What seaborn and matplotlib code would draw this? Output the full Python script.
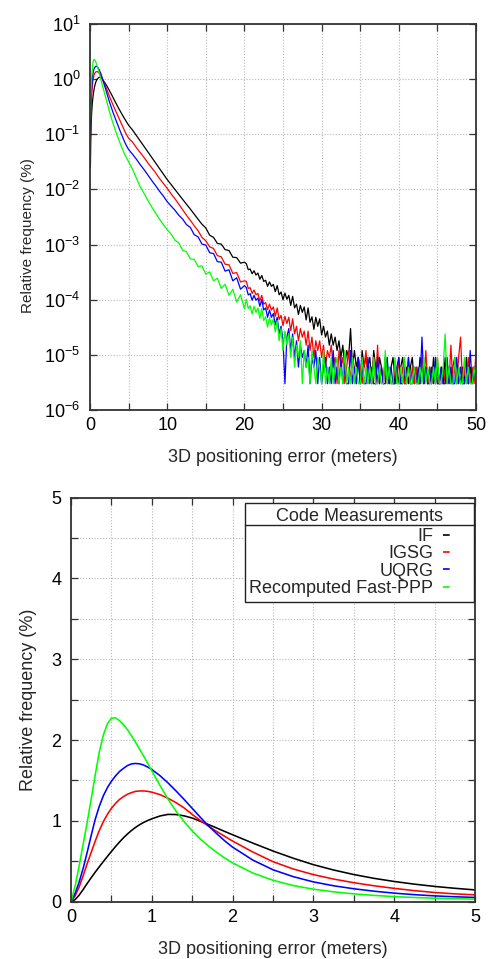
import numpy as np
import pandas as pd
import matplotlib
matplotlib.use("Agg")
import matplotlib.pyplot as plt
from matplotlib.lines import Line2D
from matplotlib.transforms import IdentityTransform
from matplotlib.ticker import MultipleLocator, FixedLocator, NullLocator, FuncFormatter
import seaborn as sns

sns.set_style("ticks")
plt.rcParams['font.family'] = ['Liberation Sans', 'DejaVu Sans']
plt.rcParams['mathtext.fontset'] = 'custom'
plt.rcParams['mathtext.rm'] = 'Liberation Sans'
plt.rcParams['mathtext.it'] = 'Liberation Sans:italic'
plt.rcParams['mathtext.bf'] = 'Liberation Sans:bold'
plt.rcParams['axes.unicode_minus'] = False

# ---------------- data ----------------
series_names = ["IF", "IGSG", "UQRG", "Recomputed Fast-PPP"]
series_colors = ["#000000", "#ff0000", "#0000ff", "#00ff00"]
legend_title = "Code Measurements"
x_label = "3D positioning error (meters)"
y_label = "Relative frequency (%)"

# 3D error (m), 0..5 m
x_main = [0, 0.05, 0.1, 0.15, 0.2, 0.25, 0.3, 0.35, 0.4, 0.45, 0.5, 0.55, 0.6,
          0.65, 0.7, 0.75, 0.8, 0.85, 0.9, 0.95, 1.0, 1.1, 1.2, 1.3, 1.4, 1.5,
          1.6, 1.7, 1.8, 1.9, 2.0, 2.25, 2.5, 2.75, 3.0, 3.25, 3.5, 3.75, 4.0,
          4.25, 4.5, 4.75, 5.0]

if_main = [0, 0.025, 0.08, 0.15, 0.225, 0.297, 0.366, 0.432, 0.496, 0.559, 0.621,
           0.681, 0.738, 0.791, 0.839, 0.882, 0.92, 0.953, 0.981, 1.005, 1.025,
           1.06, 1.08, 1.078, 1.062, 1.035, 0.995, 0.955, 0.913, 0.87, 0.828,
           0.725, 0.627, 0.538, 0.458, 0.392, 0.336, 0.289, 0.25, 0.217, 0.189,
           0.166, 0.146]
igsg_main = [0, 0.07, 0.18, 0.32, 0.47, 0.61, 0.75, 0.88, 0.99, 1.08, 1.155,
             1.215, 1.265, 1.30, 1.33, 1.35, 1.365, 1.37, 1.37, 1.365, 1.355,
             1.325, 1.28, 1.225, 1.16, 1.08, 1.005, 0.935, 0.87, 0.81, 0.75,
             0.615, 0.495, 0.405, 0.335, 0.28, 0.235, 0.197, 0.165, 0.137,
             0.114, 0.097, 0.085]
uqrg_main = [0, 0.10, 0.24, 0.41, 0.61, 0.82, 1.02, 1.18, 1.31, 1.41, 1.49,
             1.555, 1.61, 1.65, 1.685, 1.705, 1.71, 1.705, 1.69, 1.665, 1.635,
             1.56, 1.47, 1.37, 1.265, 1.155, 1.045, 0.94, 0.845, 0.755, 0.675,
             0.515, 0.395, 0.31, 0.245, 0.197, 0.16, 0.13, 0.106, 0.087, 0.072,
             0.061, 0.053]
fppp_main = [0, 0.19, 0.44, 0.71, 0.98, 1.27, 1.57, 1.85, 2.06, 2.20, 2.27,
             2.275, 2.24, 2.19, 2.125, 2.05, 1.97, 1.885, 1.80, 1.71, 1.62,
             1.44, 1.27, 1.12, 0.99, 0.875, 0.775, 0.69, 0.612, 0.542, 0.48,
             0.355, 0.265, 0.20, 0.155, 0.122, 0.097, 0.078, 0.063, 0.052,
             0.043, 0.037, 0.032]

# tail of the histogram, log panel only: 5.5..20 m (0.5 m bins), 20.25..50 m (0.25 m bins)
x_tail_a = np.arange(5.5, 20.01, 0.5)
x_tail_b = np.arange(20.25, 50.01, 0.25)

if_tail_a = [0.120, 0.0955, 0.0759, 0.0603, 0.0479, 0.038, 0.0302, 0.024, 0.0191, 0.0151,
             0.0123, 0.0100, 0.0081, 0.0066, 0.0054, 0.0044, 0.00355, 0.00288, 0.00234, 0.0020,
             0.00148, 0.00135, 0.00105, 0.00102, 0.00081, 0.00078, 0.00059, 0.00058, 0.00046, 0.00048]
if_tail_b = [4.5e-4, 3.5e-4, 3.6e-4, 2.95e-4, 3.35e-4, 2.8e-4, 3.05e-4, 2.35e-4,
             2.75e-4, 2.15e-4, 2.25e-4, 1.75e-4, 2.1e-4, 1.75e-4, 1.9e-4, 1.4e-4,
             1.8e-4, 1.23e-4, 1.38e-4, 1.0e-4, 1.32e-4, 1.02e-4, 1.2e-4, 7.9e-5,
             1.15e-4, 7.1e-5, 8.3e-5, 5.4e-5, 7.9e-5, 5.9e-5, 7.4e-5, 4.3e-5,
             7.1e-5, 3.9e-5, 4.9e-5, 2.9e-5, 4.8e-5, 3.3e-5, 4.5e-5, 2.3e-5,
             3.3e-5, 2.1e-5, 2.7e-5, 1.5e-5, 2.4e-5, 1.5e-5, 2.1e-5, 1.2e-5,
             1.8e-5, 9e-6, 1.5e-5, 6e-6, 1.2e-5, 9e-6, 3.0e-5, 6e-6,
             1.2e-5, 6e-6, 9e-6, 3e-6, 1.2e-5, 6e-6, 9e-6, 6e-6,
             9e-6, 3e-6, 1.2e-5, 6e-6, 3e-6, 9e-6, 6e-6, 3e-6,
             9e-6, 6e-6, 3e-6, 6e-6, 9e-6, 3e-6, 6e-6, 3e-6,
             6e-6, 9e-6, 3e-6, 6e-6, 3e-6, 6e-6, 9e-6, 3e-6,
             6e-6, 3e-6, 9e-6, 6e-6, 3e-6, 6e-6, 3e-6, 6e-6,
             3e-6, 9e-6, 3e-6, 6e-6, 3e-6, 6e-6, 3e-6, 9e-6,
             3e-6, 6e-6, 3e-6, 6e-6, 9e-6, 3e-6, 6e-6, 3e-6,
             6e-6, 3e-6, 9e-6, 3e-6, 6e-6, 3e-6, 6e-6, 3e-6]

igsg_tail_a = [0.0724, 0.0575, 0.0468, 0.038, 0.0302, 0.0245, 0.020, 0.0158, 0.0129, 0.0105,
               0.0083, 0.0068, 0.0054, 0.0043, 0.0034, 0.00275, 0.00219, 0.00178, 0.00135, 0.00117,
               9.1e-4, 8.5e-4, 6.3e-4, 6.0e-4, 4.4e-4, 4.3e-4, 3.0e-4, 3.1e-4, 2.1e-4, 2.2e-4]
igsg_tail_b = [2.15e-4, 1.6e-4, 1.65e-4, 1.3e-4, 1.5e-4, 1.23e-4, 1.3e-4, 9.5e-5,
               1.2e-4, 8.3e-5, 8.9e-5, 6.6e-5, 8.3e-5, 6.5e-5, 7.4e-5, 5.0e-5,
               7.1e-5, 4.4e-5, 5.2e-5, 3.4e-5, 5.0e-5, 3.7e-5, 4.8e-5, 2.75e-5,
               4.5e-5, 2.4e-5, 3.3e-5, 1.8e-5, 3.0e-5, 2.1e-5, 2.7e-5, 1.5e-5,
               2.7e-5, 1.2e-5, 2.1e-5, 9e-6, 1.8e-5, 1.2e-5, 1.8e-5, 9e-6,
               1.5e-5, 6e-6, 1.2e-5, 9e-6, 1.5e-5, 6e-6, 9e-6, 3e-6,
               1.2e-5, 6e-6, 9e-6, 3e-6, 6e-6, 1.2e-5, 3e-6, 9e-6,
               6e-6, 3e-6, 9e-6, 6e-6, 3e-6, 6e-6, 1.2e-5, 3e-6,
               6e-6, 3e-6, 9e-6, 3e-6, 1.5e-5, 3e-6, 6e-6, 3e-6,
               9e-6, 3e-6, 6e-6, 3e-6, 3e-6, 6e-6, 3e-6, 9e-6,
               3e-6, 6e-6, 3e-6, 3e-6, 9e-6, 3e-6, 6e-6, 3e-6,
               6e-6, 3e-6, 3e-6, 9e-6, 3e-6, 1.2e-5, 3e-6, 6e-6,
               3e-6, 6e-6, 3e-6, 9e-6, 3e-6, 3e-6, 6e-6, 3e-6,
               6e-6, 3e-6, 1.5e-5, 3e-6, 6e-6, 3e-6, 9e-6, 2.1e-5,
               3e-6, 6e-6, 3e-6, 9e-6, 3e-6, 6e-6, 3e-6, 1.2e-5]

uqrg_tail_a = [0.0437, 0.0355, 0.0282, 0.0229, 0.0182, 0.0145, 0.0117, 0.0093, 0.0076, 0.0060,
               0.0050, 0.0042, 0.0034, 0.0029, 0.0023, 0.00204, 0.00151, 0.00138, 0.00102, 0.00098,
               7.1e-4, 6.9e-4, 4.9e-4, 4.8e-4, 3.3e-4, 3.5e-4, 2.2e-4, 2.5e-4, 1.55e-4, 1.8e-4]
uqrg_tail_b = [1.66e-4, 1.22e-4, 1.29e-4, 9.8e-5, 1.2e-4, 9.8e-5, 1.07e-4, 7.6e-5,
               1.0e-4, 6.5e-5, 7.1e-5, 4.8e-5, 6.5e-5, 4.8e-5, 5.6e-5, 3.5e-5,
               4.8e-5, 2.4e-5, 3.3e-5, 1.8e-5, 3e-6, 2.1e-5, 3.0e-5, 1.2e-5,
               2.4e-5, 9e-6, 1.8e-5, 6e-6, 1.5e-5, 9e-6, 1.2e-5, 6e-6,
               1.5e-5, 3e-6, 9e-6, 6e-6, 1.2e-5, 3e-6, 9e-6, 3e-6,
               6e-6, 9e-6, 3e-6, 6e-6, 3e-6, 1.2e-5, 3e-6, 6e-6,
               3e-6, 9e-6, 3e-6, 6e-6, 3e-6, 3e-6, 1.2e-5, 3e-6,
               6e-6, 3e-6, 9e-6, 3e-6, 6e-6, 3e-6, 3e-6, 9e-6,
               3e-6, 6e-6, 3e-6, 3e-6, 9e-6, 3e-6, 6e-6, 3e-6,
               3e-6, 9e-6, 3e-6, 6e-6, 3e-6, 3e-6, 6e-6, 9e-6,
               3e-6, 3e-6, 6e-6, 3e-6, 9e-6, 3e-6, 3e-6, 6e-6,
               3e-6, 6e-6, 3e-6, 2.1e-5, 3e-6, 6e-6, 3e-6, 3e-6,
               6e-6, 3e-6, 9e-6, 3e-6, 3e-6, 6e-6, 3e-6, 3e-6,
               9e-6, 3e-6, 6e-6, 3e-6, 3e-6, 9e-6, 3e-6, 6e-6,
               3e-6, 3e-6, 6e-6, 3e-6, 1.2e-5, 3e-6, 6e-6, 3e-6]

fppp_tail_a = [0.0234, 0.0162, 0.0112, 0.0085, 0.0063, 0.0048, 0.0037, 0.0029, 0.0023, 0.00186,
               0.00155, 0.0012, 0.00107, 7.9e-4, 7.4e-4, 5.5e-4, 5.4e-4, 4.0e-4, 4.1e-4, 2.9e-4,
               3.2e-4, 2.2e-4, 2.45e-4, 1.6e-4, 1.9e-4, 1.2e-4, 1.55e-4, 9.1e-5, 1.23e-4, 6.9e-5]
fppp_tail_b = [1.02e-4, 6.9e-5, 7.8e-5, 5.5e-5, 7.6e-5, 5.9e-5, 7.1e-5, 4.6e-5,
               6.9e-5, 4.2e-5, 4.9e-5, 3.2e-5, 4.7e-5, 3.5e-5, 4.5e-5, 2.6e-5,
               4.2e-5, 1.8e-5, 3.0e-5, 1.2e-5, 2.7e-5, 1.5e-5, 2.4e-5, 9e-6,
               2.1e-5, 6e-6, 1.5e-5, 9e-6, 1.8e-5, 3e-6, 1.2e-5, 6e-6,
               9e-6, 3e-6, 1.2e-5, 6e-6, 3e-6, 9e-6, 6e-6, 3e-6,
               1.2e-5, 3e-6, 6e-6, 3e-6, 9e-6, 3e-6, 6e-6, 9e-6,
               3e-6, 6e-6, 3e-6, 1.2e-5, 3e-6, 6e-6, 3e-6, 9e-6,
               3e-6, 6e-6, 3e-6, 3e-6, 9e-6, 3e-6, 6e-6, 3e-6,
               6e-6, 3e-6, 9e-6, 3e-6, 3e-6, 6e-6, 3e-6, 3e-6,
               1.2e-5, 3e-6, 6e-6, 3e-6, 3e-6, 9e-6, 3e-6, 3e-6,
               6e-6, 3e-6, 9e-6, 3e-6, 6e-6, 3e-6, 3e-6, 6e-6,
               3e-6, 3e-6, 6e-6, 3e-6, 9e-6, 3e-6, 6e-6, 3e-6,
               3e-6, 6e-6, 3e-6, 9e-6, 3e-6, 3e-6, 6e-6, 2.4e-5,
               3e-6, 6e-6, 3e-6, 3e-6, 9e-6, 3e-6, 6e-6, 3e-6,
               3e-6, 9e-6, 3e-6, 6e-6, 3e-6, 3e-6, 6e-6, 3e-6]

main_vals = dict(zip(series_names, [if_main, igsg_main, uqrg_main, fppp_main]))
tail_a_vals = dict(zip(series_names, [if_tail_a, igsg_tail_a, uqrg_tail_a, fppp_tail_a]))
tail_b_vals = dict(zip(series_names, [if_tail_b, igsg_tail_b, uqrg_tail_b, fppp_tail_b]))
palette = dict(zip(series_names, series_colors))

# ---------------- tables ----------------
bottom_rows, top_rows = [], []
for name in series_names:
    for xv, yv in zip(x_main, main_vals[name]):
        bottom_rows.append((name, xv, yv))
        if yv > 0:
            top_rows.append((name, xv, yv))
    for xv, yv in zip(x_tail_a, tail_a_vals[name]):
        top_rows.append((name, float(xv), yv))
    for xv, yv in zip(x_tail_b, tail_b_vals[name]):
        top_rows.append((name, float(xv), yv))
df_bottom = pd.DataFrame(bottom_rows, columns=["series", "x", "v"])
df_top = pd.DataFrame(top_rows, columns=["series", "x", "v"])

# ---------------- figure ----------------
W, H = 492, 959
fig = plt.figure(figsize=(W / 100, H / 100), dpi=100)
ax1 = fig.add_axes([90 / W, 1 - 410 / H, 386 / W, 386 / H])
ax2 = fig.add_axes([71 / W, 1 - 901.7 / H, 404 / W, 404.2 / H])

grid_kw = dict(color="#b8b8b8", linestyle=(0, (1, 1.6)), linewidth=0.8)

# top: log panel
ax1.set_yscale("log")
sns.lineplot(data=df_top, x="x", y="v", hue="series", hue_order=series_names,
             palette=palette, estimator=None, sort=False, legend=False,
             linewidth=0.9, ax=ax1)
ax1.set_xlim(0, 50)
ax1.set_ylim(1e-6, 10)
ax1.xaxis.set_major_locator(MultipleLocator(10))
ax1.xaxis.set_minor_locator(MultipleLocator(5))
ax1.yaxis.set_major_locator(FixedLocator([10.0 ** k for k in range(-6, 2)]))
ax1.yaxis.set_minor_locator(NullLocator())
ax1.yaxis.set_major_formatter(FuncFormatter(lambda v, p: r"$\mathdefault{10^{%d}}$" % round(np.log10(v))))
ax1.grid(True, which="both", **grid_kw)

# bottom: linear panel
sns.lineplot(data=df_bottom, x="x", y="v", hue="series", hue_order=series_names,
             palette=palette, estimator=None, sort=False, legend=False,
             linewidth=1.15, ax=ax2)
ax2.set_xlim(0, 5)
ax2.set_ylim(0, 5)
ax2.xaxis.set_major_locator(MultipleLocator(1))
ax2.xaxis.set_minor_locator(MultipleLocator(0.5))
ax2.yaxis.set_major_locator(MultipleLocator(1))
ax2.yaxis.set_minor_locator(MultipleLocator(0.5))
ax2.xaxis.set_major_formatter(FuncFormatter(lambda v, p: "%d" % round(v)))
ax2.yaxis.set_major_formatter(FuncFormatter(lambda v, p: "%d" % round(v)))
ax2.grid(True, which="both", **grid_kw)

for ax in (ax1, ax2):
    ax.set_axisbelow(True)
    ax.tick_params(which="both", direction="in", top=True, right=True,
                   length=5, width=0.9, color="#333333", labelsize=13,
                   labelcolor="black")
    ax.tick_params(axis="y", pad=7)
    ax.tick_params(axis="x", pad=5)
    for sp in ax.spines.values():
        sp.set_color("#333333")
        sp.set_linewidth(1.3)
    ax.set_xlabel(x_label, fontsize=13)

ax1.set_ylabel(y_label, fontsize=11)
ax2.set_ylabel(y_label, fontsize=13)
ax1.xaxis.set_label_coords(0.5, -(449 - 410) / 386)
ax1.yaxis.set_label_coords((35 - 90) / 386, 1 - (236 - 24) / 386)
ax2.xaxis.set_label_coords(0.5, -(941 - 901.7) / 404.2)
ax2.yaxis.set_label_coords((37 - 71) / 404, 0.5)

# legend (gnuplot-like: text right aligned, short sample on the right)
handles = [Line2D([], [], color=c, lw=1.2, linestyle=(0, (4, 60))) for c in series_colors]
leg = ax2.legend(handles, series_names, title=legend_title, markerfirst=False,
                 loc="upper right", bbox_to_anchor=((474 - 71) / 404, 1 - (503 - 497.5) / 404.2),
                 borderaxespad=0, frameon=True, fancybox=False, framealpha=1,
                 edgecolor="#222222", fontsize=13, title_fontsize=13,
                 handlelength=1.45, handletextpad=0.55, labelspacing=0.02,
                 borderpad=0.25)
leg.get_frame().set_linewidth(1.0)
leg._legend_box.sep = 2.5

fig.canvas.draw()
renderer = fig.canvas.get_renderer()
tb = leg.get_title().get_window_extent(renderer)
t0 = leg.get_texts()[0].get_window_extent(renderer)
fb = leg.get_frame().get_window_extent(renderer)
ysep = (tb.y0 + t0.y1) / 2 + 1
fig.add_artist(Line2D([fb.x0, fb.x1], [ysep, ysep], transform=IdentityTransform(),
                      color="#222222", lw=1.0))

fig.savefig("out.png", dpi=100)
